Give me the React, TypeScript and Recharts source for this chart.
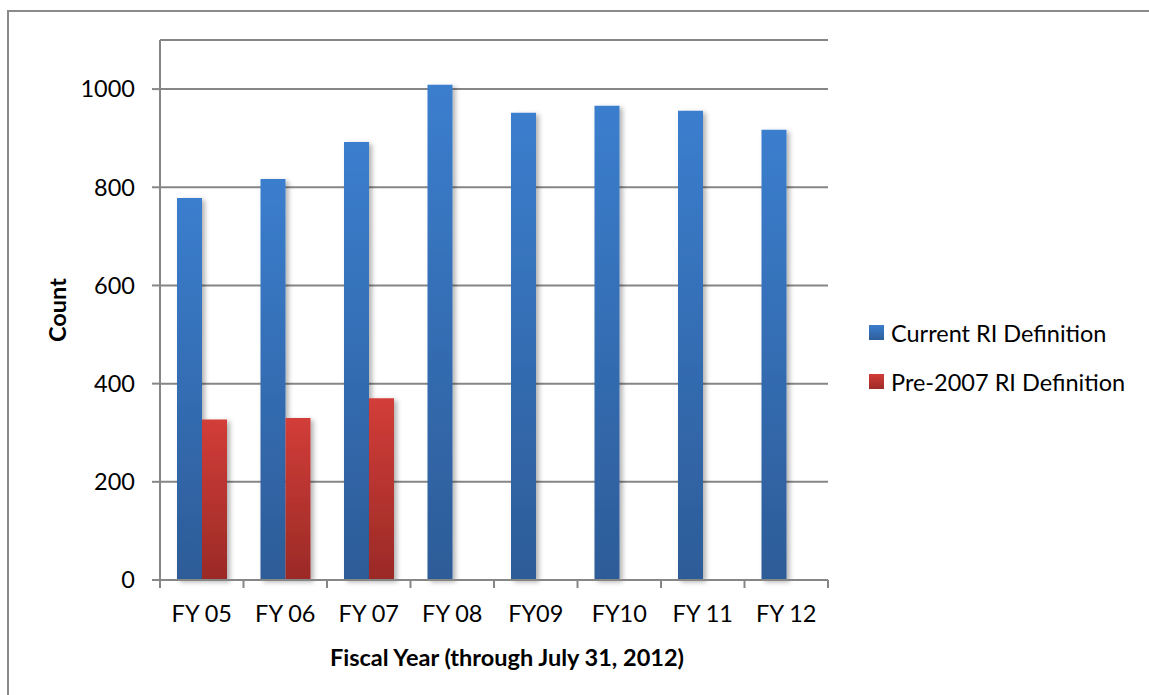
import React from "react";
import { BarChart, Bar, XAxis, YAxis, CartesianGrid, Legend, Label } from "recharts";

// Fiscal years on the category axis
const fiscalYears = ["FY 05", "FY 06", "FY 07", "FY 08", "FY09", "FY10", "FY 11", "FY 12"];
// Counts under the current RI definition
const currentRI = [778, 817, 892, 1009, 952, 966, 956, 917];
// Counts under the pre-2007 RI definition (only reported through FY 07)
const pre2007RI = [327, 330, 370, null, null, null, null, null];
// Value axis ticks
const yTicks = [0, 200, 400, 600, 800, 1000];

const data = fiscalYears.map((fy, i) => ({
  fy,
  current: currentRI[i],
  pre2007: pre2007RI[i],
}));

const FONT = "Lato, 'Open Sans', sans-serif";
const FONT_SIZE = 23.5;
const AXIS_GRAY = "#868686";

// Category tick: label at the band centre, tick marks on the band edges
const CategoryTick = (props: any) => {
  const { x, y, payload, index, width, visibleTicksCount } = props;
  const half = width / visibleTicksCount / 2;
  const axisY = y - 8;
  return (
    <g>
      <line x1={x - half} y1={axisY} x2={x - half} y2={axisY + 8} stroke={AXIS_GRAY} strokeWidth={2} />
      {index === visibleTicksCount - 1 && (
        <line x1={x + half} y1={axisY} x2={x + half} y2={axisY + 8} stroke={AXIS_GRAY} strokeWidth={2} />
      )}
      <text x={x} y={axisY + 33} textAnchor="middle" dominantBaseline="central" fontFamily={FONT} fontSize={FONT_SIZE} fill="#000">
        {payload.value}
      </text>
    </g>
  );
};

const legendItems = [
  { label: "Current RI Definition", gradient: "linear-gradient(#3B7DCD, #2E5E9B)" },
  { label: "Pre-2007 RI Definition", gradient: "linear-gradient(#D13C37, #9E2B28)" },
];

const LegendContent = () => (
  <div style={{ fontFamily: FONT, fontSize: FONT_SIZE, color: "#000" }}>
    {legendItems.map((item) => (
      <div key={item.label} style={{ display: "flex", alignItems: "center", height: 49 }}>
        <span style={{ display: "inline-block", width: 15, height: 15, background: item.gradient, marginRight: 7 }} />
        <span>{item.label}</span>
      </div>
    ))}
  </div>
);

export default function App() {
  return (
    <div style={{ position: "absolute", left: 0, top: 0, width: 1149, height: 695, overflow: "hidden", background: "#fff" }}>
      <div
        style={{
          position: "absolute",
          left: 7,
          top: 10,
          width: 1300,
          height: 900,
          border: "2px solid #8a8a8a",
        }}
      />
      <BarChart
        width={1149}
        height={695}
        data={data}
        margin={{ top: 40, right: 41, bottom: 85, left: 100 }}
        barCategoryGap={17}
        barGap={0}
        style={{ position: "absolute", left: 0, top: 0 }}
      >
        <defs>
          <linearGradient id="gradBlue" x1="0" y1="0" x2="0" y2="1">
            <stop offset="0%" stopColor="#3B7ECE" />
            <stop offset="100%" stopColor="#2D5C98" />
          </linearGradient>
          <linearGradient id="gradRed" x1="0" y1="0" x2="0" y2="1">
            <stop offset="0%" stopColor="#D23D38" />
            <stop offset="100%" stopColor="#9A2A27" />
          </linearGradient>
          <filter id="barShadow" x="-30%" y="-10%" width="170%" height="130%">
            <feDropShadow dx={3} dy={2} stdDeviation={2.5} floodColor="#000" floodOpacity={0.3} />
          </filter>
        </defs>
        <CartesianGrid vertical={false} stroke={AXIS_GRAY} strokeWidth={2} />
        <XAxis
          dataKey="fy"
          height={30}
          tickLine={false}
          axisLine={{ stroke: AXIS_GRAY, strokeWidth: 2 }}
          tick={<CategoryTick />}
          interval={0}
        >
          <Label
            value="Fiscal Year (through July 31, 2012)"
            position="insideBottom"
            offset={-56}
            dx={13}
            style={{ fontFamily: FONT, fontSize: FONT_SIZE, fontWeight: 700, fill: "#000" }}
          />
        </XAxis>
        <YAxis
          width={60}
          domain={[0, 1100]}
          ticks={yTicks}
          tickSize={8}
          tickLine={{ stroke: AXIS_GRAY, strokeWidth: 2 }}
          axisLine={{ stroke: AXIS_GRAY, strokeWidth: 2 }}
          tick={{ fontFamily: FONT, fontSize: FONT_SIZE, fill: "#000" }}
          tickMargin={17}
        >
          <Label
            value="Count"
            angle={-90}
            position="insideLeft"
            dx={-47}
            style={{ fontFamily: FONT, fontSize: FONT_SIZE, fontWeight: 700, fill: "#000", textAnchor: "middle" }}
          />
        </YAxis>
        <Legend
          layout="vertical"
          align="right"
          verticalAlign="top"
          content={<LegendContent />}
          wrapperStyle={{ left: 869, top: 308, width: 280 }}
        />
        <Bar dataKey="current" name="Current RI Definition" fill="url(#gradBlue)" filter="url(#barShadow)" isAnimationActive={false} />
        <Bar dataKey="pre2007" name="Pre-2007 RI Definition" fill="url(#gradRed)" filter="url(#barShadow)" isAnimationActive={false} />
      </BarChart>
    </div>
  );
}
